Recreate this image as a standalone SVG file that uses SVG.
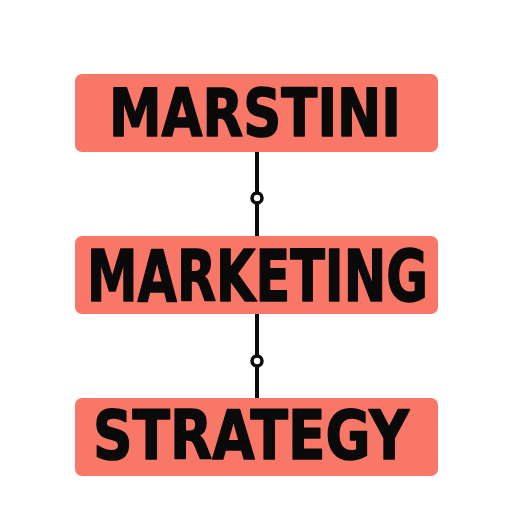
<svg xmlns="http://www.w3.org/2000/svg" width="512" height="512" viewBox="0 0 512 512">
<style>
.box{fill:#F97767;}
.t{font-family:"DejaVu Sans","Liberation Sans",sans-serif;font-weight:bold;fill:#0a0a0a;stroke:#0a0a0a;stroke-width:1.6;stroke-linejoin:round;}
.ln{stroke:#0a0a0a;stroke-width:4;fill:none;}
.dot{fill:#fff;stroke:#0a0a0a;stroke-width:3.5;}
</style>
<rect width="512" height="512" fill="#fff"/>
<g id="connectors">
<line class="ln" x1="257" y1="152" x2="257" y2="236"/>
<line class="ln" x1="257" y1="314" x2="257" y2="398"/>
<circle class="dot" cx="257" cy="198" r="5"/>
<circle class="dot" cx="257" cy="361" r="5"/>
</g>
<g id="marstini">
<rect class="box" x="75" y="74" width="363" height="78" rx="7"/>
<text class="t" x="109" y="136" font-size="66" textLength="292" lengthAdjust="spacingAndGlyphs">MARSTINI</text>
</g>
<g id="marketing">
<rect class="box" x="75" y="236" width="363" height="78" rx="7"/>
<text class="t" x="87" y="301" font-size="72" textLength="341" lengthAdjust="spacingAndGlyphs">MARKETING</text>
</g>
<g id="strategy">
<rect class="box" x="75" y="398" width="363" height="78" rx="7"/>
<text class="t" x="93" y="459" font-size="68" textLength="316" lengthAdjust="spacingAndGlyphs">STRATEGY</text>
</g>
</svg>
